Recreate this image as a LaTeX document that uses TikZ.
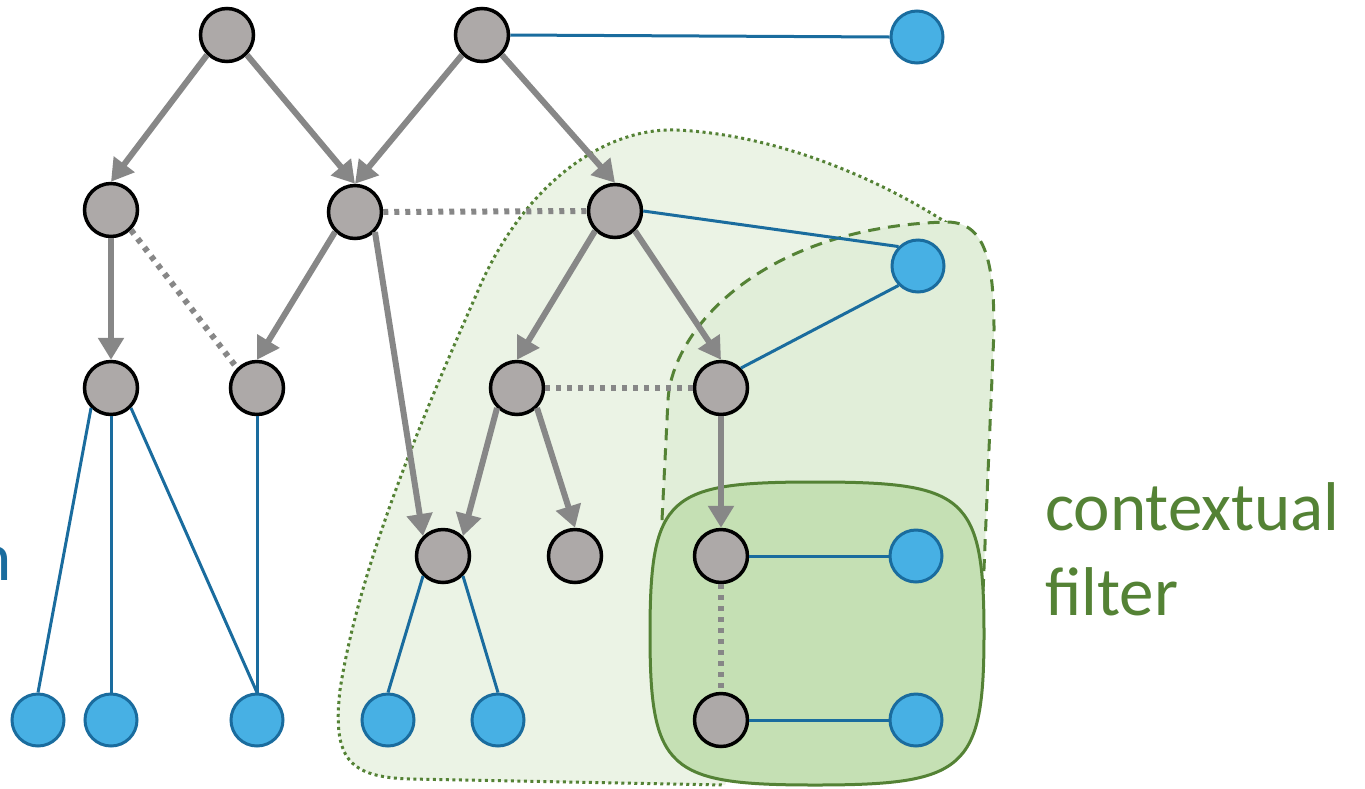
\documentclass[tikz,border=0pt]{standalone}
\usepackage{fontspec}
\setmainfont{Carlito}
\usepackage{xcolor}
\usetikzlibrary{arrows.meta}
\definecolor{KGray}{HTML}{ADA9A8}
\definecolor{KEdge}{HTML}{878787}
\definecolor{KBlue}{HTML}{47B0E4}
\definecolor{KBlueDark}{HTML}{1A6C9E}
\definecolor{KGreen}{HTML}{548235}
\definecolor{KLight}{HTML}{EBF3E5}
\definecolor{KMid}{HTML}{E1EED9}
\definecolor{KFilter}{HTML}{C5E0B4}

\begin{document}
\begin{tikzpicture}[
  x=1pt,y=-1pt,
  concept/.style={circle,draw=black,line width=3.5pt,fill=KGray,
    minimum size=53pt,inner sep=0pt},
  entity/.style={circle,draw=KBlueDark,line width=3pt,fill=KBlue,
    minimum size=52pt,inner sep=0pt},
  isa/.style={-{Triangle[length=22pt,width=25pt]},line width=6pt,color=KEdge},
  related/.style={line width=6pt,color=KEdge,dash pattern=on 5pt off 6pt},
  link/.style={line width=3pt,color=KBlueDark},
  zonetext/.style={font=\fontsize{69}{85}\selectfont,inner sep=0pt}
]
  \useasboundingbox (0,0) rectangle (1365,788);

  % context regions
  \path[fill=KLight,draw=KGreen,line width=3pt,dash pattern=on 3pt off 3.5pt]
    (947,223) .. controls (880,180) and (780,135) .. (677,130)
    .. controls (600,127) and (520,190) .. (477,293)
    .. controls (430,400) and (360,560) .. (340,690)
    .. controls (332,760) and (350,777) .. (410,779) -- (725,785);
  \path[fill=KMid,draw=KGreen,line width=3pt,dash pattern=on 12pt off 8pt]
    (656,640) -- (668,400) .. controls (672,330) and (760,228) .. (945,222)
    .. controls (985,221) and (994,260) .. (994,330) -- (981,640);
  \path[fill=KFilter,draw=KGreen,line width=3pt]
    (815,482) .. controls (965,482) and (984,495) .. (984,634)
    .. controls (984,770) and (965,785) .. (815,785)
    .. controls (668,785) and (650,770) .. (650,634)
    .. controls (650,495) and (668,482) .. (815,482) -- cycle;

  \node[concept] (c1a) at (227,35) {};
  \node[concept] (c1b) at (482,35) {};
  \node[concept] (c2a) at (111,210) {};
  \node[concept] (c2b) at (355,212) {};
  \node[concept] (c2c) at (615,211) {};
  \node[concept] (c3a) at (111,388) {};
  \node[concept] (c3b) at (257,388) {};
  \node[concept] (c3c) at (517,388) {};
  \node[concept] (c3d) at (721,388) {};
  \node[concept] (c4a) at (443,556) {};
  \node[concept] (c4b) at (575,556) {};
  \node[concept] (c4c) at (721,556) {};
  \node[concept] (c5a) at (721,720) {};

  \node[entity] (e1) at (917,37) {};
  \node[entity] (e2) at (918,266) {};
  \node[entity] (e3) at (916,556) {};
  \node[entity] (e4) at (916,720) {};
  \node[entity] (e5) at (38,720) {};
  \node[entity] (e6) at (111,720) {};
  \node[entity] (e7) at (257,720) {};
  \node[entity] (e8) at (388,720) {};
  \node[entity] (e9) at (498,720) {};

  \foreach \a/\b in {c1a.south west/c2a.north, c1a.south east/c2b.north,
      c1b.south west/c2b.north, c1b.south east/c2c.north, c2a.south/c3a.north,
      c2b.south west/c3b.north, c2b.south east/c4a.north west,
      c2c.south west/c3c.north, c2c.south east/c3d.north,
      c3c.south west/c4a.north east, c3c.south east/c4b.north,
      c3d.south/c4c.north}
    {\draw[isa] (\a) -- (\b);}
  \foreach \a/\b in {c2b.east/c2c.west, c2a.south east/c3b.north west,
      c3c.east/c3d.west, c4c.south/c5a.north}
    {\draw[related] (\a) -- (\b);}
  \foreach \a/\b in {c1b.east/e1.west, c2c.east/e2.north west,
      c3d.north east/e2.south west, c3a.south west/e5.north,
      c3a.south/e6.north, c3a.south east/e7.north, c3b.south/e7.north,
      c4a.south west/e8.north, c4a.south east/e9.north,
      c4c.east/e3.west, c5a.east/e4.west}
    {\draw[link] (\a) -- (\b);}

  \node[zonetext,text=KGreen,anchor=base west] (ctx1) at (1045,530) {contextual};
  \node[zonetext,text=KGreen,anchor=base west] (ctx2) at (1045,615) {filter};
  \node[zonetext,text=KBlueDark,anchor=base east] (cut) at (12,580) {n};
\end{tikzpicture}
\end{document}
